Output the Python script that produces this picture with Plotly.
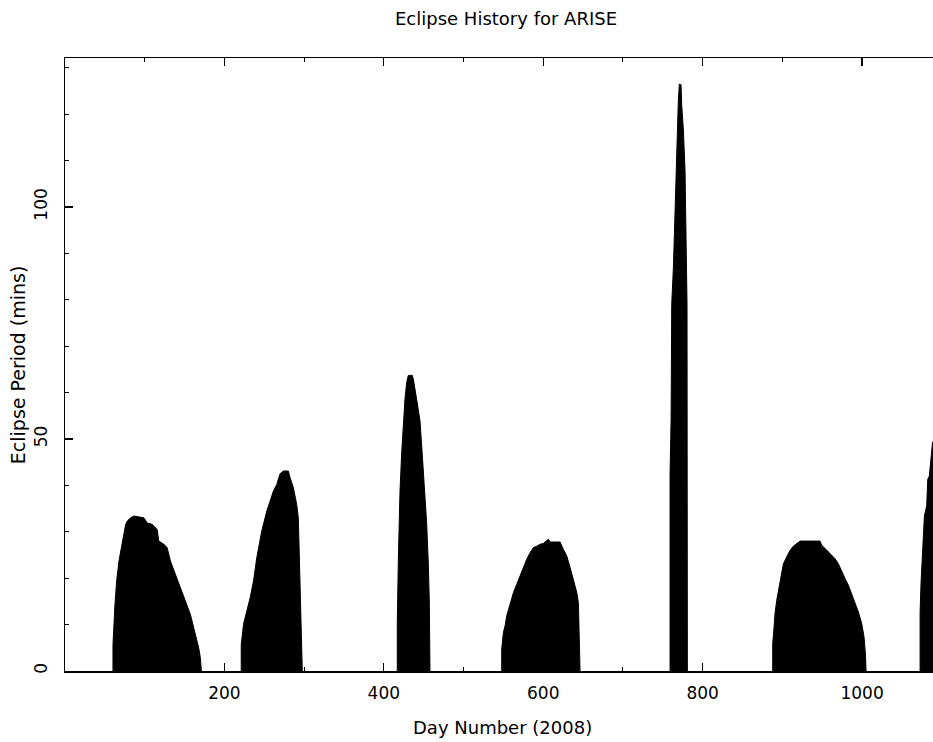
import plotly.graph_objects as go

# Eclipse seasons: day number (2008) and eclipse period (mins)
s1_day = [60.2, 60.2, 62.7, 64.8, 67.7, 69.8, 71.9, 74.0, 76.1, 78.1, 82.3, 86.5, 99.0, 103.1, 109.4, 115.6, 117.7, 124.0, 128.1, 132.3, 138.6, 144.8, 151.1, 157.3, 161.5, 165.6, 167.7, 169.8, 171.1]
s1_min = [0, 5.7, 14.4, 19.4, 23.7, 25.9, 28.0, 30.2, 31.6, 32.3, 33.0, 33.4, 33.0, 31.9, 31.6, 30.5, 28.0, 27.3, 26.6, 23.7, 20.8, 18.0, 15.1, 12.2, 9.3, 6.5, 5.0, 2.9, 0]

s2_day = [221.1, 221.1, 224.0, 232.3, 236.5, 240.6, 246.9, 253.2, 257.3, 261.5, 265.7, 269.8, 274.0, 280.2, 282.3, 286.5, 290.7, 292.7, 293.6, 294.8, 296.9, 297.7]
s2_min = [0, 5.7, 10.1, 15.8, 19.4, 24.4, 30.2, 34.5, 36.6, 38.8, 40.2, 42.5, 43.1, 43.1, 41.7, 39.5, 35.9, 33.0, 27.3, 17.2, 4.3, 0]

s3_day = [416.9, 416.9, 418.2, 420.3, 422.4, 424.4, 426.5, 428.6, 430.7, 435.7, 437.0, 441.2, 445.4, 447.5, 449.5, 451.6, 453.7, 455.8, 457.1, 457.9]
s3_min = [0, 10.4, 24.0, 38.8, 47.0, 52.8, 58.5, 62.1, 63.7, 63.7, 62.9, 58.5, 53.9, 48.5, 43.5, 37.7, 32.0, 23.3, 14.7, 0]

s4_day = [547.9, 547.9, 550.0, 552.1, 554.2, 556.3, 558.4, 562.6, 566.8, 570.9, 575.1, 579.3, 583.5, 587.7, 591.8, 596.0, 600.2, 606.5, 608.6, 621.1, 625.3, 629.5, 633.7, 637.9, 642.1, 644.1, 645.4, 646.2]
s4_min = [0, 4.7, 8.3, 9.7, 11.9, 13.3, 14.7, 16.9, 18.7, 20.5, 22.3, 24.1, 25.5, 26.6, 26.9, 27.3, 27.5, 28.4, 27.8, 27.8, 26.2, 24.8, 22.3, 19.8, 16.9, 14.7, 8.3, 0]

s5_day = [759.1, 759.1, 760.4, 761.2, 763.3, 764.5, 766.2, 767.5, 769.5, 770.8, 772.9, 773.7, 775.8, 777.9, 779.2, 780.4, 780.8]
s5_min = [0, 42.6, 54.0, 79.0, 87.0, 93.6, 107.0, 115.0, 123.0, 126.5, 126.3, 122.0, 116.6, 108.0, 87.0, 79.0, 0]

s6_day = [887.9, 887.9, 889.6, 890.8, 892.9, 895.0, 897.1, 899.2, 901.3, 905.5, 909.7, 913.8, 918.0, 922.2, 947.3, 949.4, 953.6, 959.8, 966.1, 970.3, 974.5, 978.7, 982.8, 987.0, 991.2, 995.4, 999.6, 1002.5, 1004.2, 1005.0]
s6_min = [0, 5.9, 9.5, 12.4, 15.2, 17.4, 19.5, 21.7, 23.1, 24.6, 26.0, 26.9, 27.4, 28.0, 28.0, 27.1, 26.4, 25.3, 24.2, 23.1, 21.3, 19.9, 18.5, 16.7, 14.9, 12.7, 10.2, 7.3, 3.7, 0]

s7_day = [1072.8, 1072.8, 1074.0, 1075.7, 1078.2, 1081.1, 1082.4, 1084.4, 1086.6, 1088.2, 1090.0, 1090.0]
s7_min = [0, 12.6, 19.0, 26.2, 33.4, 35.6, 41.3, 42.0, 46.3, 48.9, 50.0, 0]

seasons = [(s1_day, s1_min), (s2_day, s2_min), (s3_day, s3_min), (s4_day, s4_min),
           (s5_day, s5_min), (s6_day, s6_min), (s7_day, s7_min)]

x_ticks = [200, 400, 600, 800, 1000]
x_minor = [100, 300, 500, 700, 900]
y_ticks = [0, 50, 100]
y_minor = [10, 20, 30, 40, 60, 70, 80, 90, 110, 120, 130]

FONT = "DejaVu Sans"

fig = go.Figure()
for d, m in seasons:
    fig.add_trace(go.Scatter(x=d, y=m, mode="lines", fill="tozeroy",
                             fillcolor="black", line=dict(color="black", width=1),
                             hoverinfo="skip", showlegend=False))

fig.update_layout(
    width=933, height=742,
    margin=dict(l=65, r=0, t=58, b=71, autoexpand=False),
    paper_bgcolor="white", plot_bgcolor="white",
    font=dict(family=FONT, size=17, color="black"),
    showlegend=False,
)

fig.update_xaxes(
    range=[0, 1089], showgrid=False, zeroline=False, automargin=False,
    showline=True, linecolor="black", linewidth=1.5, mirror="ticks",
    ticks="inside", ticklen=8, tickwidth=1.2, tickcolor="black",
    tickvals=x_ticks, ticktext=[str(v) for v in x_ticks],
    ticklabelstandoff=6,
    minor=dict(tickvals=x_minor, ticks="inside", ticklen=4, tickwidth=1, tickcolor="black"),
)
fig.update_yaxes(
    range=[0, 132.1], showgrid=False, zeroline=False, automargin=False,
    showline=True, linecolor="black", linewidth=1.5, mirror=False,
    ticks="inside", ticklen=8, tickwidth=1.2, tickcolor="black",
    tickvals=y_ticks, ticktext=[str(v) for v in y_ticks], tickangle=-90,
    ticklabelstandoff=10,
    minor=dict(tickvals=y_minor, ticks="inside", ticklen=4, tickwidth=1, tickcolor="black"),
)

fig.add_annotation(text="Eclipse History for ARISE", xref="paper", yref="paper",
                   x=0.508, y=1.065, xanchor="center", yanchor="middle",
                   showarrow=False, font=dict(family=FONT, size=18, color="black"))
fig.add_annotation(text="Day Number (2008)", xref="paper", yref="paper",
                   x=0.5046, y=-0.0914, xanchor="center", yanchor="middle",
                   showarrow=False, font=dict(family=FONT, size=18, color="black"))
fig.add_annotation(text="Eclipse Period (mins)", xref="paper", yref="paper",
                   x=-0.0541, y=0.499, xanchor="center", yanchor="middle", textangle=-90,
                   showarrow=False, font=dict(family=FONT, size=19, color="black"))

fig.write_html(
    "out.html",
    config={"displayModeBar": False, "staticPlot": True},
    post_script="document.body.style.margin='0';document.body.style.overflow='hidden';"
                "document.documentElement.style.overflow='hidden';",
)
